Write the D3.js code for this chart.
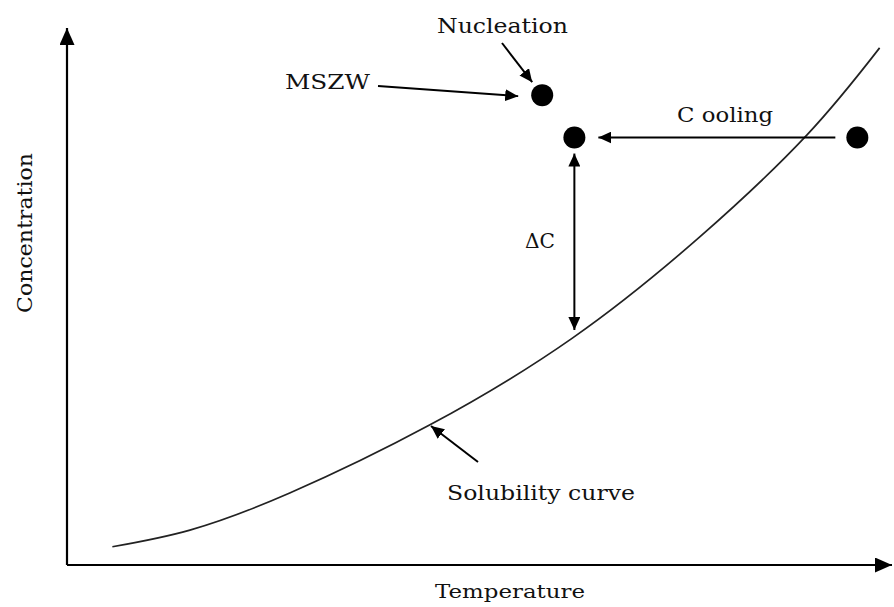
<!DOCTYPE html>
<html>
<head>
<meta charset="utf-8">
<script src="https://cdn.jsdelivr.net/npm/d3@7"></script>
<style>
  html, body { margin: 0; padding: 0; background: #fff; }
  svg { display: block; }
  text { font-family: "DejaVu Serif", "Liberation Serif", serif; fill: #111; }
</style>
</head>
<body>
<svg id="chart" width="894" height="607"></svg>
<script>
// ---- Data (in chart units: temperature 0-100, concentration 0-100) ----
const curveTemperature   = [5.5, 14.9, 27.0, 44.0, 61.3, 76.7, 89.7, 98.5];
const curveConcentration = [3.4, 6.5, 13.4, 26.1, 42.3, 61.1, 80.1, 96.3];

const pointNames         = ["Nucleation", "Supersaturated", "Start"];
const pointTemperature   = [57.6, 61.5, 95.8];
const pointConcentration = [87.5, 79.6, 79.6];

const axisLabels = ["Temperature", "Concentration"];
const annotationLabels = ["Nucleation", "MSZW", "C ooling", "\u0394C", "Solubility curve"];

// ---- Layout ----
const svg = d3.select("#chart");
const x = d3.scaleLinear().domain([0, 100]).range([67, 892]);
const y = d3.scaleLinear().domain([0, 100]).range([565, 28]);

// arrow marker
const defs = svg.append("defs");
function marker(id, w, h) {
  defs.append("marker")
    .attr("id", id)
    .attr("viewBox", `0 0 ${w} ${h}`)
    .attr("refX", w).attr("refY", h / 2)
    .attr("markerWidth", w).attr("markerHeight", h)
    .attr("markerUnits", "userSpaceOnUse")
    .attr("orient", "auto-start-reverse")
    .append("path")
    .attr("d", `M0,0L${w},${h / 2}L0,${h}Z`)
    .attr("fill", "#000");
}
marker("arr", 13, 12);
marker("axarr", 17, 15);

// axes
svg.append("path")
  .attr("d", `M${x(0)},${y(0)}L${x(0)},${y(100)}`)
  .attr("stroke", "#000").attr("stroke-width", 2.2).attr("fill", "none")
  .attr("marker-end", "url(#axarr)");
svg.append("path")
  .attr("d", `M${x(0)},${y(0)}L${x(100)},${y(0)}`)
  .attr("stroke", "#000").attr("stroke-width", 2.2).attr("fill", "none")
  .attr("marker-end", "url(#axarr)");

// solubility curve
const curvePts = curveTemperature.map((t, i) => [t, curveConcentration[i]]);
const line = d3.line().x(d => x(d[0])).y(d => y(d[1])).curve(d3.curveNatural);
svg.append("path")
  .attr("d", line(curvePts))
  .attr("fill", "none").attr("stroke", "#222").attr("stroke-width", 1.7);

// points
svg.selectAll("circle.pt")
  .data(pointNames.map((n, i) => ({ n, t: pointTemperature[i], c: pointConcentration[i] })))
  .join("circle")
  .attr("class", "pt")
  .attr("cx", d => x(d.t)).attr("cy", d => y(d.c))
  .attr("r", 11).attr("fill", "#000");

// arrows
function arrow(x1, y1, x2, y2, both) {
  const p = svg.append("path")
    .attr("d", `M${x1},${y1}L${x2},${y2}`)
    .attr("stroke", "#000").attr("stroke-width", 2).attr("fill", "none")
    .attr("marker-end", "url(#arr)");
  if (both) p.attr("marker-start", "url(#arr)");
}
const nx = x(pointTemperature[0]), ny = y(pointConcentration[0]);
const sx = x(pointTemperature[1]), sy = y(pointConcentration[1]);
const ex = x(pointTemperature[2]), ey = y(pointConcentration[2]);

arrow(ex - 22, ey, sx + 24, sy);          // Cooling
arrow(sx, sy + 16, sx, 330, true);        // Delta C
arrow(378, 86, nx - 24, ny + 1);          // MSZW
arrow(502, 43, nx - 10, ny - 13);         // Nucleation
arrow(478, 462, 431, 426);                // Solubility curve

// labels
function label(txt, x0, base, len, size) {
  svg.append("text")
    .attr("x", x0).attr("y", base)
    .attr("font-size", size || 20)
    .attr("textLength", len).attr("lengthAdjust", "spacingAndGlyphs")
    .text(txt);
}
label(annotationLabels[0], 437, 33, 131, 21);
label(annotationLabels[1], 285, 89, 85, 20);
label(annotationLabels[2], 677, 122, 96, 20);
label(annotationLabels[3], 525, 248, 30, 20);
label(annotationLabels[4], 447, 500, 188, 20);

label(axisLabels[0], 435, 598, 150, 19);
svg.append("text")
  .attr("transform", `translate(32,313) rotate(-90)`)
  .attr("font-size", 20)
  .attr("textLength", 160).attr("lengthAdjust", "spacingAndGlyphs")
  .text(axisLabels[1]);
</script>
</body>
</html>
